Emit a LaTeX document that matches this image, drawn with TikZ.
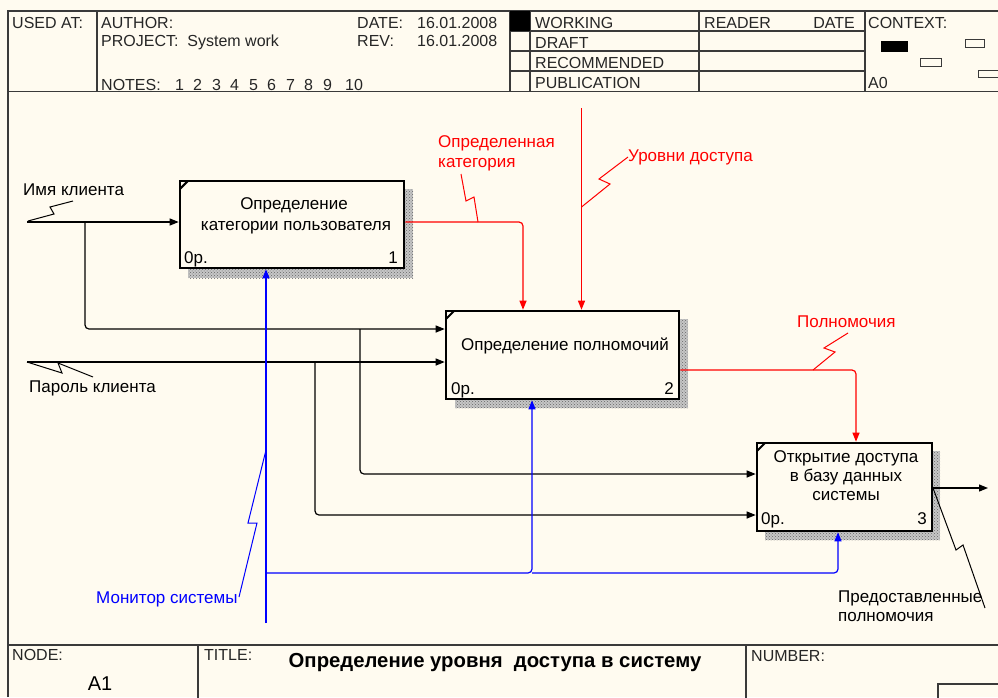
\documentclass[tikz,border=0pt]{standalone}
\usepackage{fontspec}
\setmainfont{Liberation Sans}
\usetikzlibrary{arrows.meta,patterns}
\definecolor{bg}{HTML}{FFFBF0}
\definecolor{frm}{HTML}{3A3A3A}
\definecolor{ired}{HTML}{FF0000}
\definecolor{iblue}{HTML}{0000FF}
\newcommand{\hdrfont}{\fontsize{16}{18}\selectfont}
\newcommand{\lblfont}{\fontsize{17}{20}\selectfont}
\begin{document}
\begin{tikzpicture}[x=1pt,y=-1pt,
  frameline/.style={draw=frm,line width=1.4pt},
  hdr/.style={anchor=base west,inner sep=0pt,font=\hdrfont,text=black!85},
  lbl/.style={anchor=base west,inner sep=0pt,font=\lblfont},
  ctr/.style={anchor=base,inner sep=0pt,font=\lblfont},
  rgt/.style={anchor=base east,inner sep=0pt,font=\lblfont},
  box/.style={draw=black,line width=2.6pt,fill=bg,inner sep=0pt},
  shadebase/.style={fill=gray!45},
  shade/.style={pattern=crosshatch dots,pattern color=black!60},
  tick/.style={line width=2pt},
  conn/.style={line width=1.2pt,rounded corners=4pt,-{Triangle[length=9pt,width=7pt]}},
  sq/.style={line width=1pt},
  ]
\useasboundingbox (0,0) rectangle (998,697);
\clip (0,0) rectangle (998,697);
\fill[bg] (0,0) rectangle (998,697);

% ---------- header frame ----------
\draw[frameline] (8,697) -- (8,11) -- (1000,11);
\draw[frameline] (8,91.5) -- (1000,91.5);
\foreach \x in {97,510,530,699,865} \draw[frameline] (\x,11) -- (\x,91.5);
\foreach \y in {31,51,71} \draw[frameline] (510,\y) -- (865,\y);
\fill[black] (510,11) rectangle (530,31);
% context thumbnails
\fill[black] (881,41) rectangle (908,52);
\draw[frm,line width=1pt] (965,39) rectangle (984,47);
\draw[frm,line width=1pt] (920,58) rectangle (941,66);
\draw[frm,line width=1pt] (978,70) rectangle (1005,77);

\node[hdr] (usedat) at (12,28) {USED AT:};
\node[hdr] (author) at (101,28) {AUTHOR:};
\node[hdr] (project) at (101,46) {PROJECT:\ \ System work};
\node[hdr] (notes) at (101,90) {NOTES:};
\foreach \n/\xx in {1/175,2/193,3/212,4/230,5/249,6/267,7/286,8/304,9/323,10/345}
  \node[hdr] (note\n) at (\xx,90) {\n};
\node[hdr] (date) at (357,28) {DATE:};
\node[hdr] (dateval) at (417,28) {16.01.2008};
\node[hdr] (rev) at (357,46) {REV:};
\node[hdr] (revval) at (417,46) {16.01.2008};
\node[hdr] (working) at (535,28) {WORKING};
\node[hdr] (draft) at (535,48) {DRAFT};
\node[hdr] (recom) at (535,68) {RECOMMENDED};
\node[hdr] (publ) at (535,88) {PUBLICATION};
\node[hdr] (reader) at (704,28) {READER};
\node[hdr,anchor=base east] (rdate) at (855,28) {DATE};
\node[hdr] (context) at (868,28) {CONTEXT:};
\node[hdr] (a0) at (868,88) {A0};

% ---------- footer frame ----------
\draw[frameline] (8,645) -- (1000,645);
\draw[frameline] (198,645) -- (198,700);
\draw[frameline] (746,645) -- (746,700);
\draw[frameline] (938,700) -- (938,684) -- (1005,684);
\node[hdr] (nodelbl) at (12,660) {NODE:};
\node[anchor=base,inner sep=0pt,font=\fontsize{20}{22}\selectfont] (nodeval) at (100,690) {A1};
\node[hdr] (titlelbl) at (204,660) {TITLE:};
\node[anchor=base,inner sep=0pt,font=\fontsize{20.3}{23}\selectfont\bfseries] (title) at (495,667) {Определение уровня\ \ доступа в систему};
\node[hdr] (numberlbl) at (751,661) {NUMBER:};

% ---------- shadows ----------
\foreach \r in {{(188,189) rectangle (413,278)},{(455,319) rectangle (688,408)},{(765,451) rectangle (940,540)}} {
  \fill[shadebase] \r;
  \fill[shade] \r;
}

% ---------- activity boxes ----------
\node[box,minimum width=224pt,minimum height=87pt] (b1) at (292,224.5) {};
\node[box,minimum width=233pt,minimum height=88pt] (b2) at (562.5,355) {};
\node[box,minimum width=175pt,minimum height=88pt] (b3) at (844.5,487) {};
\foreach \b in {b1,b2,b3}
  \draw[tick] ([shift={(1.5pt,-9pt)}]\b.north west) -- ([shift={(9pt,-1.5pt)}]\b.north west);

\node[ctr] (t1a) at (294,209) {Определение};
\node[ctr] (t1b) at (296,230) {категории пользователя};
\node[lbl] (t1c) at (184,263) {0р.};
\node[rgt] (t1d) at (398,263) {1};

\node[ctr] (t2a) at (565,350) {Определение полномочий};
\node[lbl] (t2c) at (451,394) {0р.};
\node[rgt] (t2d) at (674,394) {2};

\node[ctr] (t3a) at (846,462) {Открытие доступа};
\node[ctr] (t3b) at (846,481) {в базу данных};
\node[ctr] (t3c) at (846,500) {системы};
\node[lbl] (t3d) at (761,524) {0р.};
\node[rgt] (t3e) at (927,524) {3};

% ---------- connector end points ----------
\coordinate (in1) at (27,222);
\coordinate (in2) at (27,362);
\coordinate (j1) at (85,222);
\coordinate (j2) at (315,362);
\coordinate (j3) at (360,329);
\coordinate (ctl) at (581.5,108);
\coordinate (mech) at (266,623);
\coordinate (jm) at (266,573);
\coordinate (jm2) at (532,573);
\coordinate (oend) at (988,488);

% ---------- inputs (black) ----------
\draw[conn] (in1) -- (in1 -| b1.west);
\draw[conn] (j1) |- (b2.west |- 0,329);
\draw[conn] (in2) -- (in2 -| b2.west);
\draw[conn] (j3) |- (b3.west |- 0,474);
\draw[conn] (j2) |- (b3.west |- 0,515);
\draw[conn] (b3.east |- oend) -- (oend);

% ---------- controls (red) ----------
\draw[conn,ired] (b1.east |- 0,222) -| (b2.north -| 523,0);
\draw[conn,ired] (ctl) -- (ctl |- b2.north);
\draw[conn,ired] (b2.east |- 0,370) -| (b3.north -| 856,0);

% ---------- mechanisms (blue) ----------
\draw[conn,iblue] (mech) -- (mech |- b1.south);
\draw[conn,iblue] (jm) -| (b2.south -| jm2);
\draw[conn,iblue] (jm2) -| (b3.south -| 838,0);

% ---------- labels and squiggles ----------
\node[lbl] (limya) at (23,195) {Имя клиента};
\draw[sq] (28,221) -- (54,214) -- (50,207) -- (73,201);
\node[lbl] (lpar) at (29,392) {Пароль клиента};
\draw[sq] (27,362) -- (62,373) -- (58,363) -- (93,377);

\node[lbl,text=ired] (lcat1) at (438,147.5) {Определенная};
\node[lbl,text=ired] (lcat2) at (438,167) {категория};
\draw[sq,ired] (478,222) -- (474,197) -- (466,201) -- (461,174);
\node[lbl,text=ired] (llev) at (628,161) {Уровни доступа};
\draw[sq,ired] (581.5,207) -- (610,184) -- (599,179) -- (628,157);
\node[lbl,text=ired] (lpol) at (797,327) {Полномочия};
\draw[sq,ired] (813,370) -- (835,352) -- (824,348) -- (848,333);

\node[lbl,text=iblue] (lmon) at (96,603) {Монитор системы};
\draw[sq,iblue] (266,450) -- (248,523) -- (257,523) -- (239,597);

\node[lbl] (lout1) at (838,602) {Предоставленные};
\node[lbl] (lout2) at (838,621) {полномочия};
\draw[sq] (933,488) -- (956,550) -- (963,545) -- (985,608);
\end{tikzpicture}
\end{document}
